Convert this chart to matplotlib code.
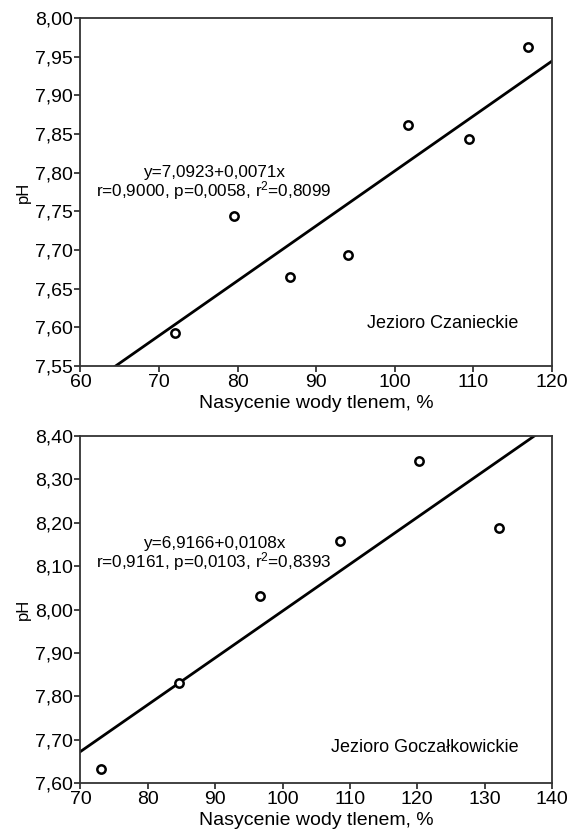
import matplotlib
matplotlib.use("Agg")
import matplotlib.pyplot as plt
import numpy as np
from matplotlib.ticker import FuncFormatter, MultipleLocator

plt.rcParams['font.family'] = ['Liberation Sans', 'DejaVu Sans']
plt.rcParams['mathtext.fontset'] = 'custom'
plt.rcParams['mathtext.rm'] = 'Liberation Sans'
plt.rcParams['mathtext.it'] = 'Liberation Sans'

# Jezioro Czanieckie
x1 = [72.0, 79.5, 86.7, 94.1, 101.7, 109.5, 117.0]
y1 = [7.593, 7.744, 7.665, 7.694, 7.862, 7.843, 7.963]
a1, b1 = 7.0923, 0.0071
# Jezioro Goczałkowickie
x2 = [73.0, 84.7, 96.6, 108.5, 120.3, 132.1]
y2 = [7.632, 7.831, 8.031, 8.158, 8.343, 8.187]
a2, b2 = 6.9166, 0.0108

fig = plt.figure(figsize=(5.72, 8.30), dpi=100)
ax1 = fig.add_axes([0.1407, 0.559, 0.8243, 0.4193])
ax2 = fig.add_axes([0.1407, 0.0566, 0.8243, 0.418])

fmt = FuncFormatter(lambda v, p: f"{v:.2f}".replace('.', ','))

def style(ax, xlim, ylim, ystep, xstep):
    ax.set_xlim(*xlim)
    ax.set_ylim(*ylim)
    ax.xaxis.set_major_locator(MultipleLocator(xstep))
    ax.yaxis.set_major_locator(MultipleLocator(ystep))
    ax.yaxis.set_major_formatter(fmt)
    ax.tick_params(axis='both', labelsize=14, length=4, width=1.2, pad=1.5, color='#222222')
    for s in ax.spines.values():
        s.set_linewidth(1.3)
        s.set_color('#333333')
    ax.set_xlabel("Nasycenie wody tlenem, %", fontsize=14, labelpad=3)
    ax.set_ylabel("pH", fontsize=12, labelpad=3)

def draw(ax, x, y, a, b, xlim):
    xx = np.array(xlim)
    ax.plot(xx, a + b * xx, color='black', lw=2, zorder=2)
    ax.plot(x, y, 'o', mfc='white', mec='black', ms=6, mew=1.8, zorder=3)

style(ax1, (60, 120), (7.55, 8.00), 0.05, 10)
draw(ax1, x1, y1, a1, b1, (60, 120))
ax1.text(77, 7.800, "y=7,0923+0,0071x", ha='center', va='center', fontsize=12.3)
ax1.text(77, 7.777, "r=0,9000, p=0,0058, r$^{2}$=0,8099", ha='center', va='center', fontsize=12.3)
ax1.text(115.7, 7.605, "Jezioro Czanieckie", ha='right', va='center', fontsize=13)

style(ax2, (70, 140), (7.60, 8.40), 0.10, 10)
draw(ax2, x2, y2, a2, b2, (70, 140))
ax2.text(89.8, 8.153, "y=6,9166+0,0108x", ha='center', va='center', fontsize=12.3)
ax2.text(89.8, 8.110, "r=0,9161, p=0,0103, r$^{2}$=0,8393", ha='center', va='center', fontsize=12.3)
ax2.text(135.0, 7.681, "Jezioro Goczałkowickie", ha='right', va='center', fontsize=13)

fig.savefig("out.png", dpi=100)
